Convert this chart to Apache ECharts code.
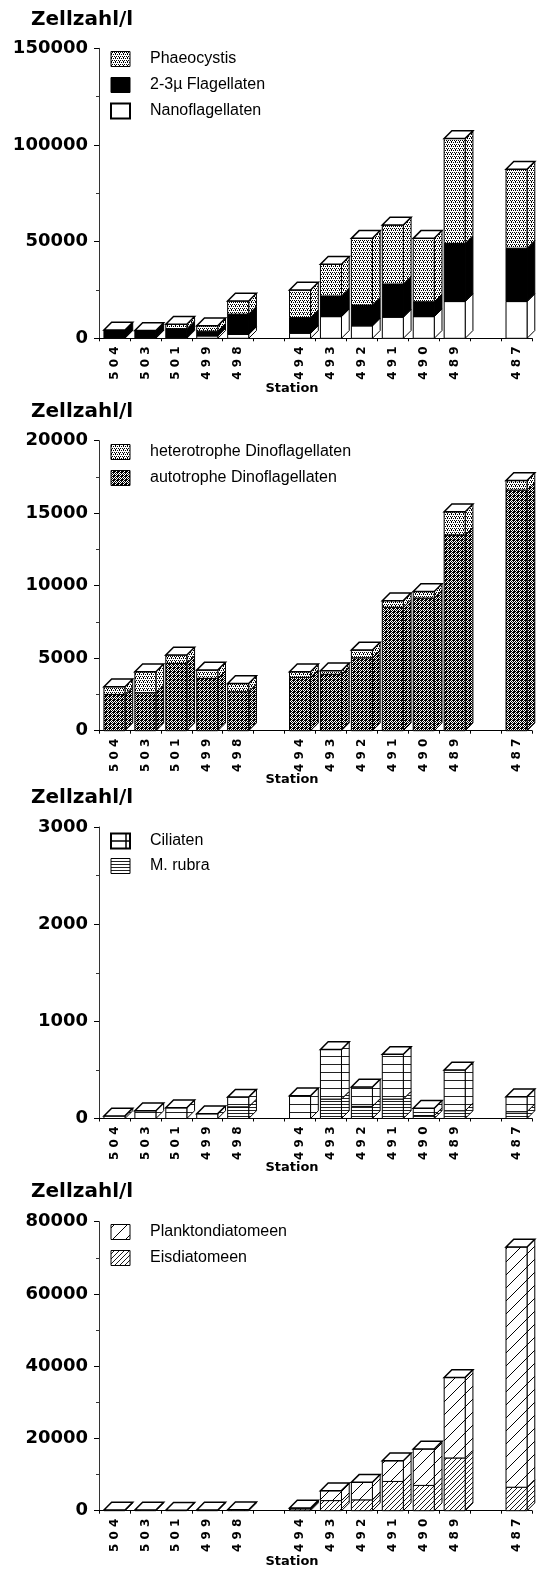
<!DOCTYPE html>
<html><head><meta charset="utf-8">
<script src="https://cdn.jsdelivr.net/npm/echarts@6/dist/echarts.min.js"></script>
<style>html,body{margin:0;padding:0;background:#fff}#c{width:542px;height:1572px}</style>
</head><body><div id="c"></div><script>
// ---- data ----
const stations = ['504','503','501','499','498','','494','493','492','491','490','489','','487'];
// panel 1 (stack bottom -> top)
const nanoflagellaten   = [300, 300, 500, 1200, 2000, null, 2600, 11200, 6400, 10900, 11200, 19000, null, 19000];
const flagellaten23     = [4000, 3700, 4500, 2500, 10500, null, 8100, 10700, 10800, 17200, 7700, 30100, null, 27600];
const phaeocystis       = [0, 0, 2300, 2800, 6800, null, 14300, 16400, 34500, 30500, 32800, 54300, null, 40800];
// panel 2
const autotropheDino    = [2500, 2620, 4640, 3610, 2690, null, 3680, 3890, 5030, 8510, 9150, 13500, null, 16600];
const heterotropheDino  = [530, 1450, 580, 570, 570, null, 390, 250, 530, 460, 450, 1600, null, 650];
// panel 3
const mRubra            = [0, 0, 0, 0, 120, null, 0, 200, 125, 200, 30, 80, null, 70];
const ciliaten          = [27, 80, 110, 50, 100, null, 235, 510, 200, 460, 75, 420, null, 155];
// panel 4
const eisdiatomeen      = [0, 0, 0, 0, 0, null, 500, 2800, 3000, 8100, 7000, 14600, null, 6500];
const planktondiatomeen = [200, 200, 150, 200, 250, null, 250, 2750, 4850, 5750, 10100, 22300, null, 66500];
// axes
const yMax = [150000, 20000, 3000, 80000];
const yInterval = [50000, 5000, 1000, 20000];
const yTitle = 'Zellzahl/l';
const xTitle = 'Station';

// ---- patterns ----
function pat(w, h, draw) {
  const c = document.createElement('canvas'); c.width = w; c.height = h;
  const g = c.getContext('2d'); g.fillStyle = '#fff'; g.fillRect(0, 0, w, h);
  g.fillStyle = '#000'; g.strokeStyle = '#000'; draw(g);
  return {image: c, repeat: 'repeat'};
}
const P = {
  light: pat(4, 4, g => { [[0,0],[2,0],[1,2],[3,2],[3,1]].forEach(p => g.fillRect(p[0], p[1], 1, 1)); }),
  dark: pat(4, 4, g => { [[0,0],[2,0],[1,1],[3,1],[0,2],[2,2],[1,3],[3,3],[1,0],[2,3]].forEach(p => g.fillRect(p[0], p[1], 1, 1)); }),
  black: '#000',
  white: '#fff',
  cil: pat(4, 8, g => { g.fillStyle = '#222'; g.fillRect(0, 0, 4, 1); }),
  rub: pat(4, 3, g => { g.fillStyle = '#222'; g.fillRect(0, 0, 4, 1); }),
  diagWide: pat(13, 13, g => { g.lineWidth = 1; for (let k = -1; k <= 1; k++) { g.beginPath(); g.moveTo(k*13, 13); g.lineTo(k*13 + 13, 0); g.stroke(); } }),
  diagDense: pat(5, 5, g => { g.lineWidth = 0.9; for (let k = -1; k <= 1; k++) { g.beginPath(); g.moveTo(k*5, 5); g.lineTo(k*5 + 5, 0); g.stroke(); } })
};

// ---- panels ----
const panels = [
  {top: 48.3, height: 290, series: [
    {name: 'Nanoflagellaten', values: nanoflagellaten, fill: P.white},
    {name: '2-3µ Flagellaten', values: flagellaten23, fill: P.black},
    {name: 'Phaeocystis', values: phaeocystis, fill: P.light}],
   legend: [{name: 'Phaeocystis', fill: P.light}, {name: '2-3µ Flagellaten', fill: P.black}, {name: 'Nanoflagellaten', fill: P.white, thick: true}],
   legendY: [59, 85, 111], titleY: 20, stationY: 389},
  {top: 440.7, height: 290, series: [
    {name: 'autotrophe Dinoflagellaten', values: autotropheDino, fill: P.dark},
    {name: 'heterotrophe Dinoflagellaten', values: heterotropheDino, fill: P.light}],
   legend: [{name: 'heterotrophe Dinoflagellaten', fill: P.light}, {name: 'autotrophe Dinoflagellaten', fill: P.dark}],
   legendY: [452, 478], titleY: 412, stationY: 780},
  {top: 827, height: 291.5, series: [
    {name: 'M. rubra', values: mRubra, fill: P.rub},
    {name: 'Ciliaten', values: ciliaten, fill: P.cil}],
   legend: [{name: 'Ciliaten', fill: P.white, cil: true}, {name: 'M. rubra', fill: P.rub}],
   legendY: [841, 866], titleY: 798, stationY: 1168},
  {top: 1221.7, height: 289, series: [
    {name: 'Eisdiatomeen', values: eisdiatomeen, fill: P.diagDense},
    {name: 'Planktondiatomeen', values: planktondiatomeen, fill: P.diagWide}],
   legend: [{name: 'Planktondiatomeen', fill: P.diagWide}, {name: 'Eisdiatomeen', fill: P.diagDense}],
   legendY: [1232, 1258], titleY: 1192, stationY: 1562}
];

function makeRender(fill) {
  return function (params, api) {
    const cat = api.value(0), lo = api.value(1), hi = api.value(2), isTop = api.value(3);
    if (!(hi > lo)) return null;
    const b = api.coord([cat, lo]), t = api.coord([cat, hi]);
    const slot = api.size([1, 0])[0];
    const w = slot * 0.68, d = slot * 0.25;
    const x0 = b[0] - w / 2, x1 = x0 + w, yb = b[1], yt = t[1];
    const children = [
      {type: 'polygon', shape: {points: [[x1, yb], [x1 + d, yb - d], [x1 + d, yt - d], [x1, yt]]},
       style: {fill: fill, stroke: '#000', lineWidth: 1}},
      {type: 'rect', shape: {x: x0, y: yt, width: w, height: yb - yt},
       style: {fill: fill, stroke: '#000', lineWidth: 1}}
    ];
    if (isTop) children.push({type: 'polygon', shape: {points: [[x0, yt], [x1, yt], [x1 + d, yt - d], [x0 + d, yt - d]]},
      style: {fill: '#fff', stroke: '#000', lineWidth: 1.5}});
    return {type: 'group', children: children};
  };
}

const grid = [], xAxis = [], yAxis = [], series = [], graphic = [];
const LEFT = 99, WIDTH = 433;
panels.forEach((p, i) => {
  grid.push({left: LEFT, width: WIDTH, top: p.top, height: p.height});
  xAxis.push({type: 'category', gridIndex: i, data: stations, boundaryGap: true,
    axisLine: {show: true, lineStyle: {color: '#000', width: 1}},
    axisTick: {show: true, interval: 0, length: 3, lineStyle: {color: '#000'}},
    axisLabel: {interval: 0, rotate: 90, margin: 8, color: '#000', fontFamily: 'DejaVu Sans', fontWeight: 'bold', fontSize: 12,
      formatter: v => v.split('').join(' ')}});
  yAxis.push({type: 'value', gridIndex: i, min: 0, max: yMax[i], interval: yInterval[i],
    axisLine: {show: true, lineStyle: {color: '#333', width: 1}},
    axisTick: {show: true, length: 5, lineStyle: {color: '#000'}},
    minorTick: {show: true, splitNumber: 2, length: 3, lineStyle: {color: '#333'}},
    splitLine: {show: false},
    axisLabel: {margin: 11, color: '#000', fontFamily: 'DejaVu Sans', fontWeight: 'bold', fontSize: 18,
      formatter: v => String(v)}});
  // stacked segments
  const totals = stations.map(() => 0);
  const lastIdx = stations.map((s, c) => { let li = -1; p.series.forEach((s2, k) => { if (s2.values[c] > 0) li = k; }); return li; });
  p.series.forEach((s, k) => {
    const data = [];
    s.values.forEach((v, c) => {
      if (v == null) return;
      const lo = totals[c], hi = lo + v; totals[c] = hi;
      data.push([c, lo, hi, lastIdx[c] === k ? 1 : 0]);
    });
    series.push({type: 'custom', name: s.name, xAxisIndex: i, yAxisIndex: i, clip: false,
      renderItem: makeRender(s.fill), data: data, encode: {x: 0, y: [1, 2]}, silent: true});
  });
  // title & station labels
  graphic.push({type: 'text', x: 31, y: p.titleY, style: {text: yTitle, fill: '#000', font: 'bold 20px "DejaVu Sans"', verticalAlign: 'middle'}});
  graphic.push({type: 'text', x: 292, y: p.stationY, style: {text: xTitle, fill: '#000', font: 'bold 13px "DejaVu Sans"', align: 'center', verticalAlign: 'middle'}});
  // legend
  p.legend.forEach((l, j) => {
    const cy = p.legendY[j];
    graphic.push({type: 'rect', shape: {x: 111, y: cy - 7.5, width: 19, height: 15},
      style: {fill: l.fill, stroke: '#000', lineWidth: l.thick || l.cil ? 2 : 1}});
    if (l.cil) {
      graphic.push({type: 'line', shape: {x1: 111, y1: cy, x2: 130, y2: cy}, style: {stroke: '#000', lineWidth: 1.5}});
      graphic.push({type: 'line', shape: {x1: 126, y1: cy - 7.5, x2: 126, y2: cy + 7.5}, style: {stroke: '#000', lineWidth: 1.5}});
    }
    graphic.push({type: 'text', x: 150, y: cy, style: {text: l.name, fill: '#000', font: '16px "Liberation Sans"', verticalAlign: 'middle'}});
  });
});

const chart = echarts.init(document.getElementById('c'), null, {renderer: 'canvas'});
chart.setOption({animation: false, backgroundColor: '#fff', grid, xAxis, yAxis, series, graphic});
</script></body></html>
